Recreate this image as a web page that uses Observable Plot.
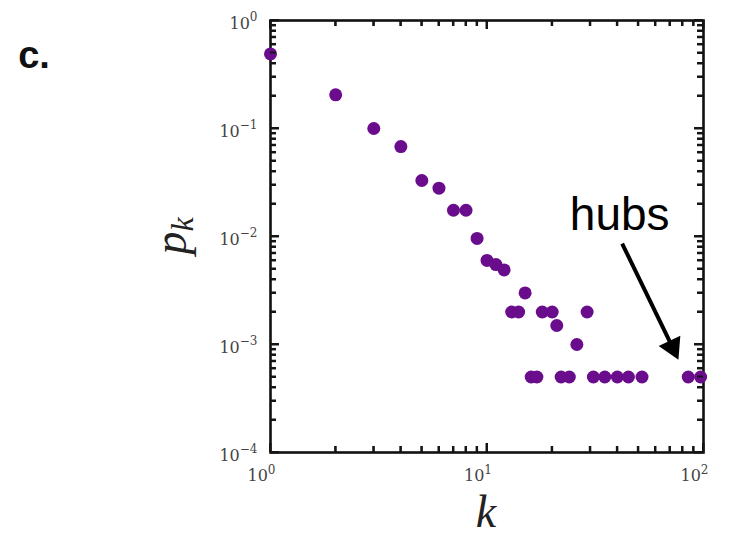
<!DOCTYPE html>
<html><head><meta charset="utf-8">
<script src="https://cdn.jsdelivr.net/npm/d3@7"></script>
<script src="https://cdn.jsdelivr.net/npm/@observablehq/plot@0.6"></script>
<style>body{margin:0;background:#fff}</style>
</head><body><div id="chart"></div>
<script>
// degree k and probability p_k
const degree = [1, 2, 3, 4, 5, 6, 7, 8, 9, 10, 11, 12, 13, 14, 15, 18, 20, 21, 26, 29,
  16, 17, 22, 24, 31, 35, 40, 45, 52, 85, 97];
const pk = [0.49, 0.205, 0.1, 0.068, 0.033, 0.028, 0.0175, 0.0175, 0.0096, 0.006, 0.0055, 0.0049,
  0.002, 0.002, 0.003, 0.002, 0.002, 0.0015, 0.001, 0.002,
  0.0005, 0.0005, 0.0005, 0.0005, 0.0005, 0.0005, 0.0005, 0.0005, 0.0005, 0.0005, 0.0005];

const xMajorTicks = [1, 10, 100];
const xTickBase = ["10", "10", "10"];
const xTickExp = ["0", "1", "2"];
const xMinorTicks = [2, 3, 4, 5, 6, 7, 8, 9, 20, 30, 40, 50, 60, 70, 80, 90];
const yMajorTicks = [1e-4, 1e-3, 1e-2, 1e-1, 1];
const yTickBase = ["10", "10", "10", "10", "10"];
const yTickExp = ["-4", "-3", "-2", "-1", "0"];
const yMinorTicks = [2e-4, 3e-4, 4e-4, 5e-4, 6e-4, 7e-4, 8e-4, 9e-4,
  2e-3, 3e-3, 4e-3, 5e-3, 6e-3, 7e-3, 8e-3, 9e-3,
  2e-2, 3e-2, 4e-2, 5e-2, 6e-2, 7e-2, 8e-2, 9e-2,
  0.2, 0.3, 0.4, 0.5, 0.6, 0.7, 0.8, 0.9];

// annotation "hubs" with arrow
const noteText = ["hubs"];
const noteK = [41];
const noteP = [0.0116];
const arrowK = [42.1, 71.9];
const arrowP = [0.0086, 0.000944];

(function () {
const points = degree.map((k, i) => ({k, p: pk[i]}));
const note = noteText.map((t, i) => ({t, k: noteK[i], p: noteP[i]}));
const shaft = [{k1: arrowK[0], p1: arrowP[0], k2: arrowK[1], p2: arrowP[1]}];
const head = [{k: arrowK[1], p: arrowP[1]}];

const xIdx = d => xMajorTicks.indexOf(d);
const yIdx = d => yMajorTicks.findIndex(v => Math.abs(v - d) < d * 1e-6);
const xFmt = d => xTickBase[xIdx(d)] + "^" + xTickExp[xIdx(d)];
const yFmt = d => yTickBase[yIdx(d)] + "^" + yTickExp[yIdx(d)];

// frame geometry (pixels)
const W = 744, H = 537, mL = 270, mR = 41, mT = 20, mB = 85;
const fw = W - mL - mR, fh = H - mT - mB;
const minorLen = 6, majorLen = 9;
const tk = {stroke: "#151515", strokeWidth: 2};

const chart = Plot.plot({
  width: W, height: H,
  marginLeft: mL, marginRight: mR, marginTop: mT, marginBottom: mB,
  x: {type: "log", domain: [1, 100]},
  y: {type: "log", domain: [1e-4, 1]},
  style: {fontFamily: "DejaVu Serif", fontSize: "16px", background: "white", color: "black", overflow: "visible"},
  marks: [
    // inward ticks on all four sides
    Plot.ruleX(xMinorTicks, {x: d => d, insetTop: fh - minorLen, ...tk}),
    Plot.ruleX(xMinorTicks, {x: d => d, insetBottom: fh - minorLen, ...tk}),
    Plot.ruleX(xMajorTicks, {x: d => d, insetTop: fh - majorLen, ...tk}),
    Plot.ruleX(xMajorTicks, {x: d => d, insetBottom: fh - majorLen, ...tk}),
    Plot.ruleY(yMinorTicks, {y: d => d, insetRight: fw - minorLen, ...tk}),
    Plot.ruleY(yMinorTicks, {y: d => d, insetLeft: fw - minorLen, ...tk}),
    Plot.ruleY(yMajorTicks, {y: d => d, insetRight: fw - majorLen, ...tk}),
    Plot.ruleY(yMajorTicks, {y: d => d, insetLeft: fw - majorLen, ...tk}),
    Plot.axisX({anchor: "bottom", ticks: xMajorTicks, tickSize: 0, tickPadding: 17, tickFormat: xFmt,
      fill: "#444", label: null, dx: -9}),
    Plot.axisY({anchor: "left", ticks: yMajorTicks, tickSize: 0, tickPadding: 13, tickFormat: yFmt,
      fill: "#444", label: null, dy: 3}),
    Plot.frame({stroke: "#111", strokeWidth: 2.6}),
    Plot.dot(points, {x: "k", y: "p", r: 6.5, fill: "#6a0d8c"}),
    Plot.text(note, {x: "k", y: "p", text: "t", fontSize: 46, fontFamily: "Liberation Sans",
      lineAnchor: "bottom", fill: "black"}),
    Plot.link(shaft, {x1: "k1", y1: "p1", x2: "k2", y2: "p2", stroke: "black", strokeWidth: 4}),
    Plot.dot(head, {x: "k", y: "p", symbol: "triangle", r: 8.9, rotate: 154.5, fill: "black"})
  ]
});

const svg = d3.select(chart);
// extra inward ticks drawn through the chart's own scales
try {
  const sx = chart.scale("x"), sy = chart.scale("y");
  const tg = svg.append("g").attr("stroke", "#151515").attr("stroke-width", 2);
  const yBot = H - mB, yTop = mT, xLeft = mL, xRight = W - mR;
  [[xMinorTicks, minorLen], [xMajorTicks, majorLen]].forEach(([ticks, len]) => ticks.forEach(v => {
    const X = sx.apply(v);
    tg.append("line").attr("x1", X).attr("x2", X).attr("y1", yBot).attr("y2", yBot - len);
    tg.append("line").attr("x1", X).attr("x2", X).attr("y1", yTop).attr("y2", yTop + len);
  }));
  [[yMinorTicks, minorLen], [yMajorTicks, majorLen]].forEach(([ticks, len]) => ticks.forEach(v => {
    const Y = sy.apply(v);
    tg.append("line").attr("y1", Y).attr("y2", Y).attr("x1", xLeft).attr("x2", xLeft + len);
    tg.append("line").attr("y1", Y).attr("y2", Y).attr("x1", xRight).attr("x2", xRight - len);
  }));
} catch (e) { /* rules above already draw the ticks */ }
// turn "10^e" tick labels into base + superscript tspans
svg.selectAll('g[aria-label="x-axis tick label"] text, g[aria-label="y-axis tick label"] text').each(function() {
  const s = this.textContent;
  if (!s.includes("^")) return;
  const [b, e] = s.split("^");
  const t = d3.select(this);
  t.text(null);
  t.append("tspan").text(b);
  t.append("tspan").attr("font-size", 12).attr("dy", "-0.6em").text(e.replace("-", "\u2212"));
});
// panel letter
svg.append("text").attr("x", 34).attr("y", 68)
  .attr("font-family", "Liberation Sans").attr("font-weight", "bold").attr("font-size", 38)
  .attr("fill", "#111").text("c.");
// y label p_k (rotated)
const yl = svg.append("text").attr("transform", "translate(186,236) rotate(-90)")
  .attr("text-anchor", "middle").attr("font-family", "Liberation Serif")
  .attr("font-style", "italic").attr("fill", "#222");
yl.append("tspan").attr("font-size", 46).text("p");
yl.append("tspan").attr("font-size", 32).attr("dy", "0.22em").text("k");
// x label k
svg.append("text").attr("x", 486).attr("y", 527).attr("text-anchor", "middle")
  .attr("font-family", "Liberation Serif").attr("font-style", "italic")
  .attr("font-size", 46).attr("fill", "#222").text("k");

document.getElementById("chart").append(chart);
})();
</script>
</body></html>
